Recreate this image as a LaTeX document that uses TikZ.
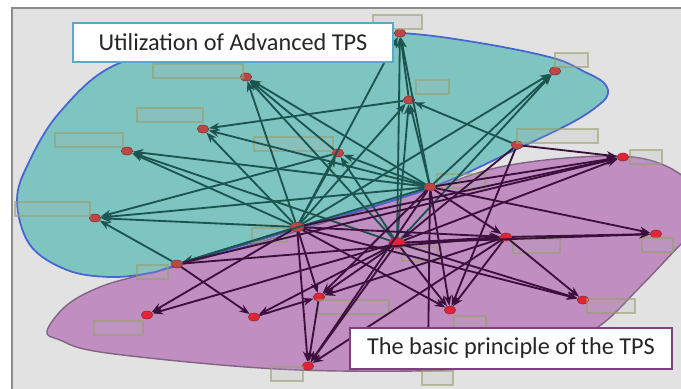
\documentclass[tikz,border=0pt]{standalone}
\usepackage{fontspec}
\setmainfont{Carlito}
\usetikzlibrary{shapes.geometric,arrows.meta}
\definecolor{bggrey}{RGB}{226,226,226}
\definecolor{framegrey}{RGB}{140,140,140}
\definecolor{tealfill}{RGB}{126,196,192}
\definecolor{tealline}{RGB}{70,100,210}
\definecolor{purplefill}{RGB}{192,142,192}
\definecolor{purpleline}{RGB}{130,100,130}
\definecolor{tealedge}{RGB}{28,84,80}
\definecolor{purpleedge}{RGB}{60,16,60}
\definecolor{dotred}{RGB}{228,36,52}
\definecolor{dotbrown}{RGB}{190,70,70}
\definecolor{tagline}{RGB}{150,160,110}
\tikzset{
  tdot/.style={ellipse, fill=dotbrown, draw=dotbrown!70!black, line width=0.3pt,
    minimum width=0.23cm, minimum height=0.16cm, inner sep=0pt},
  pdot/.style={tdot, fill=dotred},
  tag/.style={draw=tagline, draw opacity=0.6, fill=gray!60, fill opacity=0.18, line width=0.7pt},
  tl/.style={draw=tealedge, line width=1.05pt, -{Stealth[length=6pt,width=4.5pt]}},
  pl/.style={tl, draw=purpleedge},
  titlebox/.style={draw=#1, line width=1.2pt, fill=white, text=black!85,
    font=\fontsize{13.8}{16}\selectfont, inner sep=0pt}
}
% dot, its position, top-left corner of its tag, tag width (px)
\newcommand{\tpsnode}[5][pdot]{
  \node[#1] (#2) at (#3) {};
  \draw[tag] (#4) rectangle ++(#5,14);
}

\begin{document}
\begin{tikzpicture}[x=0.02cm,y=-0.02cm]
  \useasboundingbox (0,0) rectangle (681,389);
  \fill[white] (0,0) rectangle (681,389);
  \fill[bggrey] (12,8) rectangle (681,389);
  \draw[framegrey, line width=1pt] (12,389) -- (12,8) -- (681,8);

  % the two regions
  \begin{scope}
    \clip (12,8) rectangle (681,389);
    \draw[purpleline, fill=purplefill, line width=0.8pt] plot[smooth cycle, tension=0.6] coordinates {
      (47,331) (67,305) (100,287) (137,276) (177,266) (297,231) (430,189) (500,167)
      (580,157) (640,158) (680,174) (700,200) (695,230) (680,245) (640,287) (598,327)
      (540,355) (460,369) (340,371) (233,366) (100,352) (60,340)};
    \draw[tealline, fill=tealfill, line width=1pt] plot[smooth cycle, tension=0.6] coordinates {
      (603,82) (585,72) (553,58) (480,43) (400,33) (300,33) (200,44) (113,66) (60,112)
      (30,160) (17,200) (30,245) (67,270) (110,277) (150,273) (177,265) (297,229)
      (430,188) (517,149) (573,122) (600,104) (608,93)};
  \end{scope}

  % advanced TPS
  \tpsnode[tdot]{t1}{400,33}{373,15}{49}
  \tpsnode[tdot]{t2}{555,71}{555,53}{33}
  \tpsnode[tdot]{t3}{246,77}{153,64}{90}
  \tpsnode[tdot]{t4}{409,100}{416,80}{33}
  \tpsnode[tdot]{t5}{203,129}{137,108}{66}
  \tpsnode[tdot]{t6}{127,151}{55,133}{68}
  \tpsnode[tdot]{t7}{338,153}{254,137}{79}
  \tpsnode[tdot]{t8}{517,145}{517,129}{81}
  \tpsnode[tdot]{t9}{430,187}{437,174}{48}
  \tpsnode[tdot]{t10}{95,218}{15,202}{75}
  \tpsnode[tdot, minimum width=0.28cm, minimum height=0.19cm]{t11}{297,227}{252,228}{35}
  \tpsnode[tdot]{t12}{177,264}{137,265}{31}

  % basic principle
  \tpsnode{p1}{623,157}{630,150}{32}
  \tpsnode[pdot, minimum width=0.32cm, minimum height=0.21cm]{p2}{397,243}{402,247}{35}
  \tpsnode{p3}{506,237}{513,239}{47}
  \tpsnode{p4}{656,234}{642,238}{31}
  \tpsnode{p5}{319,297}{318,300}{71}
  \tpsnode{p6}{147,315}{94,321}{49}
  \node[pdot] (p7) at (254,317) {};
  \tpsnode{p8}{450,310}{454,316}{32}
  \tpsnode{p9}{583,300}{587,299}{48}
  \tpsnode{p10}{308,366}{271,367}{32}
  \tpsnode{p11}{428,362}{422,371}{31}

  % links into the upper region
  \draw[tl] (t11) edge (t3) edge (t5) edge (t6) edge (t10) edge (t1) edge (t4) edge (t7) edge (t2) edge (t12);
  \draw[tl] (t9) edge (t3) edge (t5) edge (t6) edge (t10) edge (t1) edge (t4) edge (t7) edge (t2) edge (t12);
  \draw[tl] (p2) edge (t1) edge (t4) edge (t2) edge (t7) edge (t6) edge (t3);
  \draw[tl] (t4) edge (t5) edge (t1);
  \draw[tl] (t8) edge (t4);
  \draw[tl] (t12) edge (t10);
  \draw[tl] (t7) edge (t10) edge (t3);

  % links into the lower region
  \draw[pl] (p2) edge (p5) edge (p6) edge (p10) edge (p8) edge (p9) edge (p4) edge (p3) edge (p1) edge (p7);
  \draw[pl] (t11) edge (p6) edge (p5) edge (p10) edge (p8) edge (p3) edge (p1) edge (p9);
  \draw[pl] (t9) edge (p3) edge (p8) edge (p5) edge (p4) edge (p1) edge (p11) edge (p10);
  \draw[pl] (p3) edge (p4) edge (p8) edge (p9) edge (p10) edge (p5);
  \draw[pl] (t8) edge (p1) edge (p2) edge (p8);
  \draw[pl] (t12) edge (p7) edge (p1) edge (p3);
  \draw[pl] (p7) edge (p5);
  \draw[pl] (p5) edge (p10);

  % headings
  \node[titlebox=cyan!55!gray, minimum width=6.4cm, minimum height=0.78cm] (advanced) at (233,42.5)
    {Utilization of Advanced TPS};
  \node[titlebox=violet!50!gray, minimum width=6.44cm, minimum height=0.82cm] (basic) at (511,348.5)
    {The basic principle of the TPS};
\end{tikzpicture}
\end{document}
